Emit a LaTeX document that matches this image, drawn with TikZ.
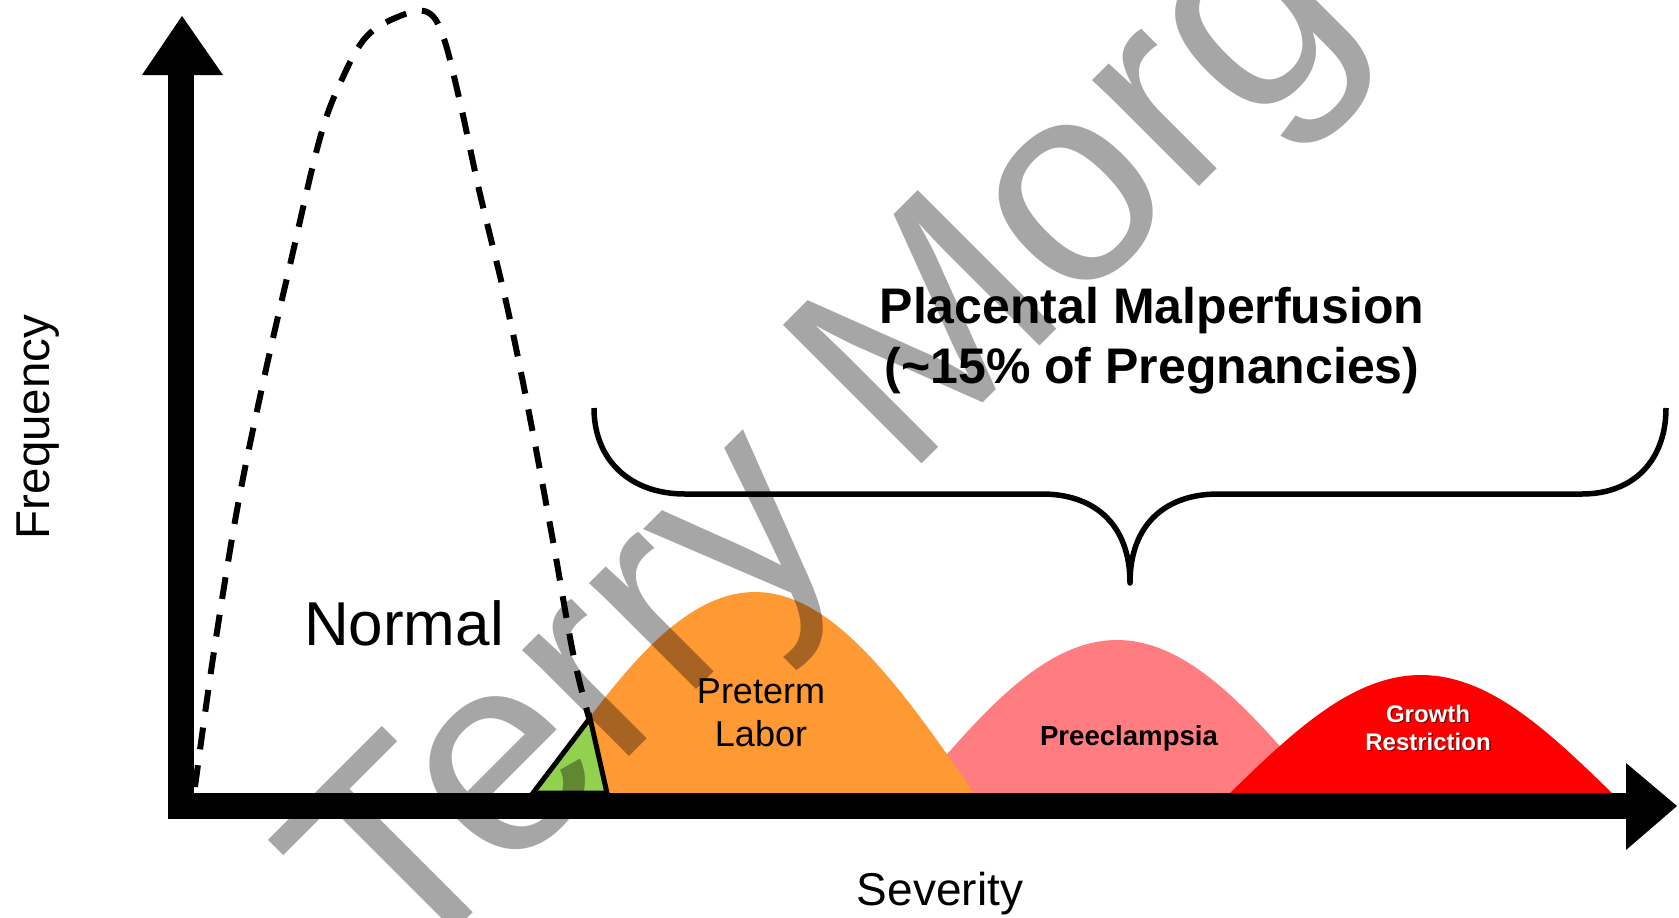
\documentclass[tikz,border=0pt]{standalone}
\usepackage{fontspec}
\setmainfont{Liberation Sans}

\definecolor{ptlorange}{HTML}{FF9933}
\definecolor{ptlpink}{HTML}{FF7C80}
\definecolor{ptlred}{HTML}{FF0000}
\definecolor{ptlgreen}{HTML}{92D050}

\begin{document}
\begin{tikzpicture}[
    x=1pt, y=-1pt,
    lbl/.style={inner sep=0pt, anchor=base},
    normalcurve/.style={line width=6pt, dash pattern=on 22pt off 16pt},
    brace/.style={line width=5.5pt, line join=round},
    shadowtxt/.style={lbl, text=black, text opacity=0.45},
    watermark/.style={inner sep=0pt, anchor=base west, rotate=45, text=black, text opacity=0.35,
      font=\fontsize{285}{285}\selectfont}]
  \useasboundingbox (0,0) rectangle (1679,918);
  \clip (0,0) rectangle (1679,918);
  % distributions
  \fill[ptlpink] plot[domain=0:180, samples=70] ({914+\x/180*406}, {793-153*sin(\x)}) -- cycle;
  \fill[ptlorange] plot[domain=0:180, samples=70] ({536+\x/180*438}, {793-201*sin(\x)}) -- cycle;
  \fill[ptlred] plot[domain=0:180, samples=70] ({1230+\x/180*382}, {793-118*sin(\x)}) -- cycle;
  \filldraw[fill=ptlgreen, line width=5pt] (533,793) -- (590,718) -- (607,793) -- cycle;
  \draw[normalcurve] plot[smooth, tension=0.6] coordinates {(195,787) (213,658) (237,510)
    (263,383) (290,265) (320,138) (343,77) (367,36) (400,16) (427,12) (443,36) (460,102)
    (480,194) (507,306) (530,418) (553,541) (573,653) (589,718)};
  % axes
  \coordinate (origin) at (181,806);
  \coordinate (ytip) at (182,16);
  \coordinate (xtip) at (1677,806);
  \fill (168,819) rectangle (194,75);
  \fill (142,75) -- (ytip) -- (223,75) -- cycle;
  \fill (168,793) rectangle (1626,819);
  \fill (1626,763) -- (xtip) -- (1626,850) -- cycle;
  % brace
  \draw[brace] (594,408) .. controls (594,460) and (630,494) .. (685,494) -- (1042,494)
    .. controls (1092,494) and (1130,522) .. (1130,583)
    .. controls (1130,522) and (1168,494) .. (1218,494) -- (1582,494)
    .. controls (1634,494) and (1666,460) .. (1666,408);
  % labels
  \node[lbl, font=\fontsize{50}{60}\selectfont\bfseries] (title1) at (1152,323) {Placental Malperfusion};
  \node[lbl, font=\fontsize{50}{60}\selectfont\bfseries] (title2) at (1152,383) {(\textasciitilde15\% of Pregnancies)};
  \node[lbl, font=\fontsize{62}{70}\selectfont] (normal) at (404,645) {Normal};
  \node[lbl, font=\fontsize{36}{40}\selectfont] (preterm) at (761,703) {Preterm};
  \node[lbl, font=\fontsize{36}{40}\selectfont] (labor) at (761,746) {Labor};
  \node[lbl, font=\fontsize{27.6}{30}\selectfont\bfseries] (preec) at (1129,745) {Preeclampsia};
  \node[shadowtxt, font=\fontsize{24}{28}\selectfont\bfseries] at (1429.5,723.5) {Growth};
  \node[shadowtxt, font=\fontsize{24}{28}\selectfont\bfseries] at (1429.5,751.5) {Restriction};
  \node[lbl, text=white, font=\fontsize{24}{28}\selectfont\bfseries] (growth) at (1428,722) {Growth};
  \node[lbl, text=white, font=\fontsize{24}{28}\selectfont\bfseries] (restr) at (1428,750) {Restriction};
  \node[lbl, rotate=90, font=\fontsize{47.5}{50}\selectfont] (freq) at (49,427) {Frequency};
  \node[lbl, font=\fontsize{46}{50}\selectfont] (sev) at (940,905) {Severity};
  % watermark
  \node[watermark] (wm) at (402,984) {Terry Morgan};
\end{tikzpicture}
\end{document}
